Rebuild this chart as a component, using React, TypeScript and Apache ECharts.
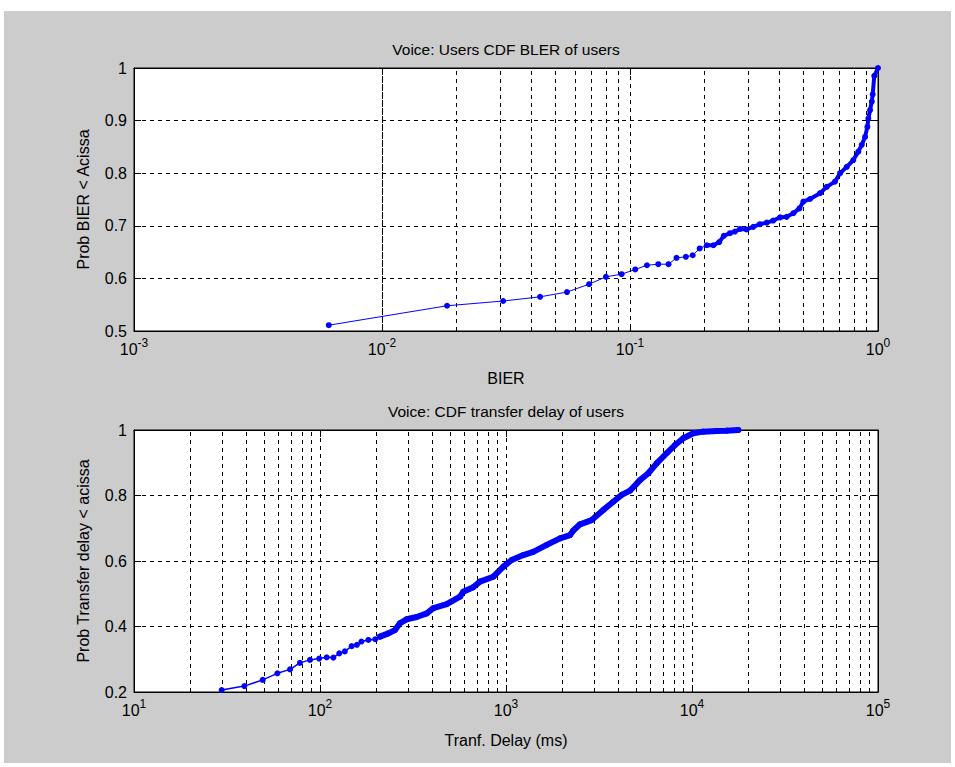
import React, { useEffect, useRef } from "react";
import * as echarts from "echarts";

// ---- Top plot: CDF of BLER ----
const bler = [
  0.0061, 0.0183, 0.0308, 0.0434, 0.0557, 0.0684, 0.08, 0.0925, 0.105, 0.117,
  0.13, 0.143, 0.154, 0.168, 0.179, 0.191, 0.204, 0.217, 0.229, 0.239, 0.253,
  0.265, 0.278, 0.295, 0.314, 0.334, 0.356, 0.378, 0.403, 0.428, 0.456, 0.482,
  0.5, 0.532, 0.584, 0.621, 0.671, 0.703, 0.748, 0.795, 0.833, 0.86, 0.887,
  0.906, 0.914, 0.929, 0.944, 0.952, 0.966, 1.0,
];
const blerProb = [
  0.511, 0.548, 0.557, 0.565, 0.574, 0.589, 0.603, 0.608, 0.617, 0.625, 0.627,
  0.627, 0.639, 0.641, 0.644, 0.657, 0.663, 0.663, 0.669, 0.681, 0.686, 0.689,
  0.694, 0.693, 0.698, 0.703, 0.706, 0.71, 0.716, 0.717, 0.724, 0.733, 0.746,
  0.751, 0.762, 0.774, 0.784, 0.8, 0.812, 0.825, 0.841, 0.854, 0.869, 0.888,
  0.904, 0.92, 0.936, 0.95, 0.985, 1.0,
];

// ---- Bottom plot: CDF of transfer delay (ms) ----
const delay = [
  29.6, 39.2, 49.2, 59, 69, 78, 88.3, 99, 108.6, 118, 127, 136, 148, 158, 167,
  182, 198, 210, 233, 253, 269, 292, 331, 375, 407, 480, 566, 589, 667, 724,
  855, 968, 1072, 1239, 1402, 1655, 1952, 2209, 2300, 2500, 2889, 3337, 3775,
  4188, 4645, 5253, 5822, 6455, 7305, 8105, 8982, 10160, 11500, 13580, 15350,
  17740,
];
const delayProb = [
  0.206, 0.218, 0.237, 0.257, 0.269, 0.289, 0.298, 0.302, 0.306, 0.305, 0.318,
  0.324, 0.34, 0.344, 0.354, 0.359, 0.361, 0.369, 0.379, 0.389, 0.41, 0.422,
  0.429, 0.44, 0.456, 0.468, 0.491, 0.506, 0.52, 0.537, 0.552, 0.583, 0.603,
  0.618, 0.628, 0.649, 0.669, 0.679, 0.693, 0.712, 0.725, 0.756, 0.781, 0.802,
  0.815, 0.847, 0.868, 0.898, 0.929, 0.954, 0.975, 0.99, 0.995, 0.997, 0.998,
  1.0,
];

// Tick / grid definitions
const blerDecades = [0.001, 0.01, 0.1];
const delayDecades = [10, 100, 1000, 10000];
const minorMultipliers = [2, 3, 4, 5, 6, 7, 8, 9];

// Where the samples become dense (drawn as a thick band in the original)
const blerDenseFrom = 0.2;
const delayDenseFrom = 200;

const title1 = "Voice: Users CDF BLER of users";
const title2 = "Voice: CDF transfer delay of users";
const xName1 = "BIER";
const yName1 = "Prob BIER < Acissa";
const xName2 = "Tranf. Delay (ms)";
const yName2 = "Prob Transfer delay < acissa";

const FONT = "'Liberation Sans', Arial, Helvetica, sans-serif";
const BLUE = "#0000ff";

function minorLines(decades: number[]) {
  const out: number[] = [];
  decades.forEach((d) => minorMultipliers.forEach((m) => out.push(+(d * m).toPrecision(6))));
  return out;
}

export default function App() {
  const ref = useRef<HTMLDivElement>(null);
  useEffect(() => {
    if (!ref.current) return;
    const chart = echarts.init(ref.current, null, { renderer: "svg" });

    const labelRich = {
      b: { fontSize: 16, lineHeight: 16, color: "#000", fontFamily: FONT, padding: [8, 0, 0, 0] },
      s: { fontSize: 12, lineHeight: 12, color: "#000", fontFamily: FONT, verticalAlign: "top" },
    };
    const dash = { color: "#000", type: [4, 4] as any, width: 1 };

    const mainX = (gridIndex: number, min: number, max: number, name: string, gap: number) => ({
      type: "log",
      logBase: 10,
      gridIndex,
      min,
      max,
      position: "bottom",
      name,
      nameLocation: "middle",
      nameGap: gap,
      nameTextStyle: { fontSize: 16, color: "#000", fontFamily: FONT },
      axisLine: { show: true, onZero: false, lineStyle: { color: "#000", width: 1 } },
      axisTick: { show: true, inside: true, length: 7, lineStyle: { color: "#000" } },
      axisLabel: {
        show: true,
        margin: 6,
        showMinLabel: true,
        showMaxLabel: true,
        formatter: (v: number) => `{b|10}{s|${Math.round(Math.log10(v))}}`,
        rich: labelRich,
      },
      splitLine: { show: true, lineStyle: dash },
      minorTick: { show: false },
    });
    const topX = (gridIndex: number, min: number, max: number) => ({
      type: "log",
      logBase: 10,
      gridIndex,
      min,
      max,
      position: "top",
      axisLine: { show: true, onZero: false, lineStyle: { color: "#000", width: 1 } },
      axisTick: { show: true, inside: true, length: 7, lineStyle: { color: "#000" } },
      axisLabel: { show: false },
      splitLine: { show: false },
    });
    const mainY = (gridIndex: number, min: number, max: number, interval: number, name: string) => ({
      type: "value",
      gridIndex,
      min,
      max,
      interval,
      position: "left",
      name,
      nameLocation: "middle",
      nameRotate: 90,
      nameGap: 43,
      nameTextStyle: { fontSize: 16, color: "#000", fontFamily: FONT },
      axisLine: { show: true, onZero: false, lineStyle: { color: "#000", width: 1 } },
      axisTick: { show: true, inside: true, length: 7, lineStyle: { color: "#000" } },
      axisLabel: { show: true, margin: 7, fontSize: 16, color: "#000", fontFamily: FONT },
      splitLine: { show: true, lineStyle: dash },
    });
    const rightY = (gridIndex: number, min: number, max: number, interval: number) => ({
      type: "value",
      gridIndex,
      min,
      max,
      interval,
      position: "right",
      axisLine: { show: true, onZero: false, lineStyle: { color: "#000", width: 1 } },
      axisTick: { show: true, inside: true, length: 7, lineStyle: { color: "#000" } },
      axisLabel: { show: false },
      splitLine: { show: false },
    });

    const minorSeries = (xi: number, yi: number, vals: number[]) => ({
      type: "line",
      xAxisIndex: xi,
      yAxisIndex: yi,
      data: [],
      z: 1,
      silent: true,
      markLine: {
        silent: true,
        symbol: ["none", "none"],
        label: { show: false },
        lineStyle: dash,
        data: vals.map((v) => ({ xAxis: v })),
      },
    });

    const blerPts = bler.map((x, i) => [x, blerProb[i]]);
    const delayPts = delay.map((x, i) => [x, delayProb[i]]);

    chart.setOption({
      animation: false,
      backgroundColor: "#cccccc",
      graphic: [
        {
          type: "text",
          x: 502,
          y: 38,
          style: { text: title1, fontSize: 15.5, fontFamily: FONT, fill: "#000", align: "center", verticalAlign: "middle" },
        },
        {
          type: "text",
          x: 502,
          y: 400,
          style: { text: title2, fontSize: 15.5, fontFamily: FONT, fill: "#000", align: "center", verticalAlign: "middle" },
        },
      ],
      grid: [
        { left: 130, top: 57, width: 744, height: 263, show: true, backgroundColor: "#fff", borderColor: "#000", borderWidth: 1 },
        { left: 130, top: 419, width: 744, height: 262, show: true, backgroundColor: "#fff", borderColor: "#000", borderWidth: 1 },
      ],
      xAxis: [
        mainX(0, 0.001, 1, xName1, 39),
        topX(0, 0.001, 1),
        mainX(1, 10, 100000, xName2, 40),
        topX(1, 10, 100000),
      ],
      yAxis: [
        mainY(0, 0.5, 1, 0.1, yName1),
        rightY(0, 0.5, 1, 0.1),
        mainY(1, 0.2, 1, 0.2, yName2),
        rightY(1, 0.2, 1, 0.2),
      ],
      series: [
        minorSeries(0, 0, minorLines(blerDecades)),
        minorSeries(2, 2, minorLines(delayDecades)),
        {
          type: "line",
          xAxisIndex: 0,
          yAxisIndex: 0,
          z: 5,
          data: blerPts,
          symbol: "circle",
          symbolSize: 6,
          showSymbol: true,
          lineStyle: { color: BLUE, width: 1 },
          itemStyle: { color: BLUE },
        },
        {
          type: "line",
          xAxisIndex: 0,
          yAxisIndex: 0,
          z: 4,
          silent: true,
          data: blerPts.filter((p) => p[0] >= blerDenseFrom),
          symbol: "none",
          lineStyle: { color: BLUE, width: 4, cap: "round", join: "round" },
        },
        {
          type: "line",
          xAxisIndex: 2,
          yAxisIndex: 2,
          z: 5,
          data: delayPts,
          symbol: "circle",
          symbolSize: 6,
          showSymbol: true,
          lineStyle: { color: BLUE, width: 1.5 },
          itemStyle: { color: BLUE },
        },
        {
          type: "line",
          xAxisIndex: 2,
          yAxisIndex: 2,
          z: 4,
          silent: true,
          data: delayPts.filter((p) => p[0] >= delayDenseFrom),
          symbol: "none",
          lineStyle: { color: BLUE, width: 6, cap: "round", join: "round" },
        },
      ],
    });
    return () => chart.dispose();
  }, []);

  return (
    <div style={{ position: "absolute", left: 0, top: 0, width: 955, height: 767, background: "#fff" }}>
      <div ref={ref} style={{ position: "absolute", left: 4, top: 11, width: 947, height: 752 }} />
    </div>
  );
}
